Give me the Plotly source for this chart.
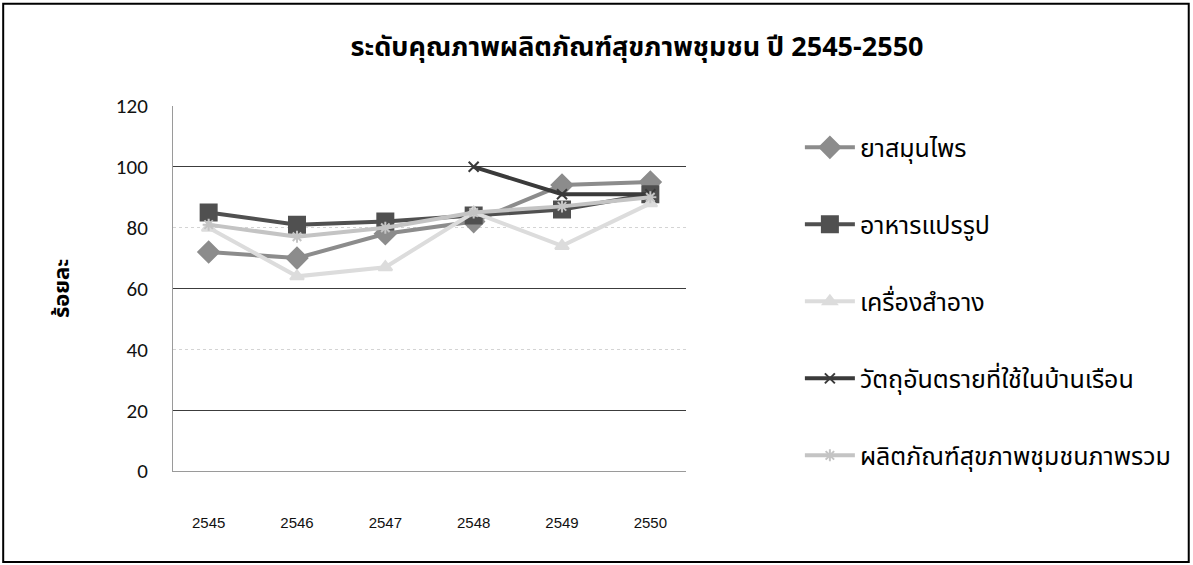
import plotly.graph_objects as go

# Years (Buddhist Era) on the category axis
years = ["2545", "2546", "2547", "2548", "2549", "2550"]

# Quality level (%) of each community health product group
herbal = [72, 70, 78, 82, 94, 95]
processed_food = [85, 81, 82, 84, 86, 91]
cosmetics = [80, 64, 67, 85, 74, 88]
household_hazard = [None, None, None, 100, 91, 91]
overall = [81, 77, 80, 85, 87, 90]

series_names = [
    "ยาสมุนไพร",
    "อาหารแปรรูป",
    "เครื่องสำอาง",
    "วัตถุอันตรายที่ใช้ในบ้านเรือน",
    "ผลิตภัณฑ์สุขภาพชุมชนภาพรวม",
]
y_ticks = [0, 20, 40, 60, 80, 100, 120]
strong_grid = [20, 60, 100]

title_text = "ระดับคุณภาพผลิตภัณฑ์สุขภาพชุมชน ปี 2545-2550"
y_title = "ร้อยละ"

thai_font = "Noto Sans Thai, Liberation Serif, DejaVu Serif, serif"

styles = [
    dict(color="#8c8c8c", symbol="diamond", size=16),
    dict(color="#505050", symbol="square", size=16),
    dict(color="#dcdcdc", symbol="triangle-up", size=12),
    dict(color="#3a3a3a", symbol="x-thin", size=10),
    dict(color="#c4c4c4", symbol="asterisk-open", size=10),
]

fig = go.Figure()
for i, (name, vals, st) in enumerate(
    zip(series_names, [herbal, processed_food, cosmetics, household_hazard, overall], styles)
):
    fig.add_trace(
        go.Scatter(
            x=years,
            y=vals,
            name=name,
            mode="lines+markers",
            line=dict(color=st["color"], width=4),
            marker=dict(symbol=st["symbol"], size=st["size"], color=st["color"],
                        line=dict(color=st["color"], width=2)),
            legendgroup=f"g{i}",
            connectgaps=False,
        )
    )

# Invisible trace on an overlaying axis carrying the darker grid lines
fig.add_trace(
    go.Scatter(x=years, y=[None] * len(years), yaxis="y2", showlegend=False,
               hoverinfo="skip", mode="lines")
)

fig.update_layout(
    width=1193,
    height=565,
    paper_bgcolor="white",
    plot_bgcolor="white",
    margin=dict(l=173, r=507, t=106, b=94),
    title=dict(
        text=f"<b>{title_text}</b>",
        x=0.534,
        xanchor="center",
        y=0.917,
        yanchor="middle",
        font=dict(family=thai_font, size=27, color="black"),
    ),
    xaxis=dict(
        type="category",
        showgrid=False,
        showline=True,
        linecolor="#9a9a9a",
        linewidth=1,
        ticks="",
        ticklabelstandoff=38,
        tickfont=dict(family="Liberation Sans, Arial, sans-serif", size=15, color="#111"),
    ),
    yaxis=dict(
        range=[0, 120],
        tickvals=y_ticks,
        showgrid=True,
        gridcolor="#d4d4d4",
        gridwidth=1,
        griddash="dot",
        zeroline=False,
        showline=True,
        linecolor="#9a9a9a",
        linewidth=1,
        ticks="",
        ticklabelstandoff=20,
        tickfont=dict(family="Carlito, Liberation Sans, sans-serif", size=21, color="#111"),
        title=dict(
            text=f"<b>{y_title}</b>",
            font=dict(family=thai_font, size=22, color="black"),
            standoff=40,
        ),
    ),
    yaxis2=dict(
        range=[0, 120],
        overlaying="y",
        side="left",
        tickvals=strong_grid,
        showticklabels=False,
        showgrid=True,
        gridcolor="#3c3c3c",
        gridwidth=1,
        zeroline=False,
        showline=False,
        ticks="",
    ),
    legend=dict(
        x=1.222,
        xanchor="left",
        y=0.949,
        yanchor="top",
        traceorder="grouped",
        tracegroupgap=41.5,
        itemwidth=50,
        font=dict(family=thai_font, size=25, color="black"),
        bgcolor="rgba(0,0,0,0)",
    ),
    shapes=[
        dict(type="rect", xref="paper", yref="paper",
             x0=-0.331, x1=1.98, y0=-0.249, y1=1.28,
             line=dict(color="black", width=2), fillcolor="rgba(0,0,0,0)", layer="below"),
    ],
    showlegend=True,
)

fig.write_html("out.html")
